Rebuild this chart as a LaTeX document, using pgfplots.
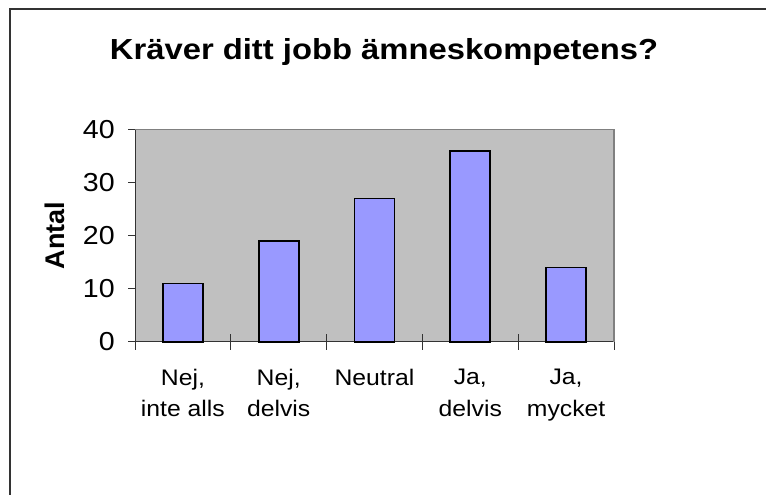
\documentclass[border=0pt]{standalone}
\usepackage{fontspec}
\setmainfont{Liberation Sans}
\newfontfamily\titlefont[FakeStretch=1.13]{Liberation Sans}
\newfontfamily\wfont[FakeStretch=1.1]{Liberation Sans}
\usepackage{pgfplots}
\pgfplotsset{compat=1.18}
\definecolor{barblue}{HTML}{9999FF}
\definecolor{plotgray}{HTML}{C0C0C0}
\definecolor{edgegray}{HTML}{808080}
\definecolor{framegray}{HTML}{333333}
\begin{document}
\begin{tikzpicture}
\useasboundingbox (0,0) rectangle (766bp,495bp);
\draw[line width=2bp, framegray] (9.5bp,-10bp) -- (9.5bp,485.5bp) -- (780bp,485.5bp);
\node[anchor=base, font=\titlefont\bfseries\fontsize{29bp}{32bp}\selectfont, inner sep=0] at (384bp,435bp) {Kräver ditt jobb ämneskompetens?};
\begin{axis}[
  at={(135bp,153.3bp)}, anchor=south west,
  scale only axis, width=479bp, height=212bp,
  xmin=0, xmax=5, ymin=0, ymax=40,
  axis x line*=bottom, axis y line*=left,
  axis line style={line width=1bp, framegray},
  axis background/.style={fill=plotgray},
  xtick={0,1,2,3,4,5}, xticklabels={},
  ytick={0,10,20,30,40},
  xtick align=center, ytick align=outside,
  major tick length=7bp,
  xtick style={/pgfplots/major tick length=16bp, line width=0.8bp, framegray},
  ytick style={line width=0.8bp, framegray},
  /pgf/number format/assume math mode=true,
  yticklabel style={font=\wfont\fontsize{26bp}{28bp}\selectfont, inner sep=0, anchor=east, xshift=-13bp},
  extra x ticks={0.5,1.5,2.5,3.5,4.5},
  extra x tick labels={{Nej,\\inte alls},{Nej,\\delvis},{Neutral},{Ja,\\delvis},{Ja,\\mycket}},
  extra x tick style={major tick length=0pt, tick style={draw=none},
    tick label style={font=\wfont\fontsize{22.5bp}{31.7bp}\selectfont, align=center, inner sep=0, anchor=north, yshift=-27bp}},
  clip=false,
]
\addplot[ybar, bar width=40bp, fill=barblue, draw=black, line width=1.7bp] coordinates {(0.5,11) (1.5,19) (2.5,27) (3.5,36) (4.5,14)};
\draw[edgegray, line width=1.2bp] (rel axis cs:0,1) -- (rel axis cs:1,1) -- (rel axis cs:1,0);
\node[font=\bfseries\fontsize{27bp}{30bp}\selectfont, rotate=90, anchor=center, inner sep=0] at ([xshift=-80bp]rel axis cs:0,0.5) {Antal};
\end{axis}
\end{tikzpicture}
\end{document}
